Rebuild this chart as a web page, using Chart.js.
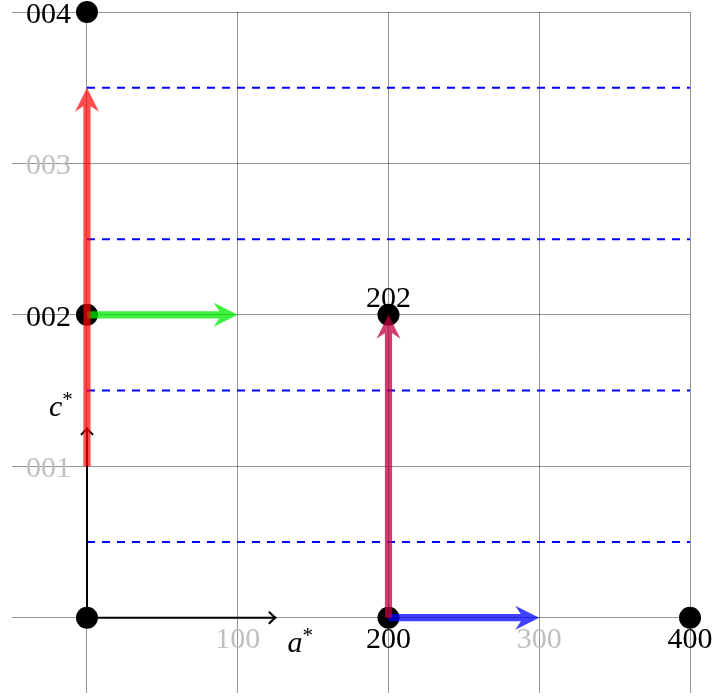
<!DOCTYPE html>
<html>
<head>
<meta charset="utf-8">
<script src="https://cdn.jsdelivr.net/npm/chart.js@4.4.0/dist/chart.umd.min.js"></script>
<style>
  html, body { margin: 0; padding: 0; background: #fff; }
  #wrap { width: 714px; height: 699px; }
</style>
</head>
<body>
<div id="wrap"><canvas id="myChart"></canvas></div>
<script>
// reciprocal lattice nodes (a*, c*)
const nodeX = [0, 2, 4, 0, 2, 0];
const nodeY = [0, 0, 0, 2, 2, 4];

// dashed lines (c* levels)
const dashLevels = [0.5, 1.5, 2.5, 3.5];

// thick vectors: start -> end
const vecNames = ['red', 'green', 'purple', 'blue'];
const vecStart = [[0, 1], [0, 2], [2, 0], [2, 0]];
const vecEnd = [[0, 3.5], [1, 2], [2, 2], [3, 0]];
const vecColors = ['rgba(255,0,0,0.7)', 'rgba(0,235,0,0.75)', 'rgba(191,0,64,0.75)', 'rgba(0,0,255,0.75)'];

// basis axes
const axisNames = ['a*', 'c*'];
const axisEnd = [[1.25, 0], [0, 1.25]];

// index labels
const labelText = ['004', '003', '002', '001', '100', '200', '300', '400', '202'];
const labelX = [0, 0, 0, 0, 1, 2, 3, 4, 2];
const labelY = [4, 3, 2, 1, 0, 0, 0, 0, 2];
const labelAllowed = [true, false, true, false, false, true, false, true, true];

const ctx = document.getElementById('myChart');

const datasets = [];

dashLevels.forEach(function (lv) {
  datasets.push({
    type: 'line',
    data: [{x: 0, y: lv}, {x: 4, y: lv}],
    borderColor: '#0000ff',
    borderWidth: 2,
    borderDash: [8, 7],
    pointRadius: 0,
    order: 10
  });
});

axisEnd.forEach(function (e, i) {
  datasets.push({
    type: 'line',
    data: [{x: 0, y: 0}, {x: e[0], y: e[1]}],
    borderColor: '#000',
    borderWidth: 2,
    pointRadius: 0,
    order: 9,
    thinArrow: true
  });
});

datasets.push({
  type: 'scatter',
  data: nodeX.map(function (x, i) { return {x: x, y: nodeY[i]}; }),
  backgroundColor: '#000',
  borderWidth: 0,
  pointRadius: 11,
  pointHoverRadius: 11,
  order: 5
});

vecNames.forEach(function (n, i) {
  datasets.push({
    type: 'line',
    label: n,
    data: [{x: vecStart[i][0], y: vecStart[i][1]}, {x: vecEnd[i][0], y: vecEnd[i][1]}],
    borderColor: vecColors[i],
    showLine: false,
    pointRadius: 0,
    order: 1,
    thickArrow: true
  });
});

// draws arrow heads (and thick shafts as one path so the alpha doesn't double up)
const arrowPlugin = {
  id: 'arrows',
  afterDatasetDraw(chart, args) {
    const ds = chart.data.datasets[args.index];
    if (!ds.thinArrow && !ds.thickArrow) return;
    const xs = chart.scales.x, ys = chart.scales.y;
    const p0 = ds.data[0], p1 = ds.data[1];
    const x0 = xs.getPixelForValue(p0.x), y0 = ys.getPixelForValue(p0.y);
    const x1 = xs.getPixelForValue(p1.x), y1 = ys.getPixelForValue(p1.y);
    const len = Math.hypot(x1 - x0, y1 - y0);
    const ux = (x1 - x0) / len, uy = (y1 - y0) / len;
    const nx = -uy, ny = ux;
    const c = chart.ctx;
    c.save();
    if (ds.thinArrow) {
      c.strokeStyle = '#000';
      c.lineWidth = 2;
      c.lineCap = 'round';
      c.beginPath();
      c.moveTo(x1 - ux * 6 + nx * 5.5, y1 - uy * 6 + ny * 5.5);
      c.quadraticCurveTo(x1 - ux * 1.5 + nx * 1, y1 - uy * 1.5 + ny * 1, x1, y1);
      c.quadraticCurveTo(x1 - ux * 1.5 - nx * 1, y1 - uy * 1.5 - ny * 1, x1 - ux * 6 - nx * 5.5, y1 - uy * 6 - ny * 5.5);
      c.stroke();
    } else {
      const L = 24, W = 12, inset = 8, hw = 3.6;
      const bx = x1 - ux * (L - inset), by = y1 - uy * (L - inset);
      c.fillStyle = ds.borderColor;
      c.beginPath();
      // shaft
      c.moveTo(x0 + nx * hw, y0 + ny * hw);
      c.lineTo(bx + nx * hw, by + ny * hw);
      c.lineTo(bx - nx * hw, by - ny * hw);
      c.lineTo(x0 - nx * hw, y0 - ny * hw);
      c.closePath();
      // head (same winding)
      c.moveTo(x1, y1);
      c.lineTo(x1 - ux * L - nx * W, y1 - uy * L - ny * W);
      c.lineTo(bx, by);
      c.lineTo(x1 - ux * L + nx * W, y1 - uy * L + ny * W);
      c.closePath();
      c.fill('nonzero');
    }
    c.restore();
  }
};

const labelPlugin = {
  id: 'labels',
  afterDraw(chart) {
    const xs = chart.scales.x, ys = chart.scales.y;
    const c = chart.ctx;
    c.save();
    c.font = '30px "Liberation Serif", serif';
    labelText.forEach(function (t, i) {
      const px = xs.getPixelForValue(labelX[i]);
      const py = ys.getPixelForValue(labelY[i]);
      c.fillStyle = labelAllowed[i] ? '#000' : '#bfbfbf';
      c.textBaseline = 'alphabetic';
      if (labelX[i] === 0 && labelY[i] > 0) {
        c.textAlign = 'right';
        c.fillText(t, px - 16, py + 11);
      } else if (labelY[i] === 0) {
        c.textAlign = 'center';
        c.fillText(t, px, py + 30);
      } else {
        c.textAlign = 'center';
        c.fillText(t, px, py - 8);
      }
    });
    // axis names
    axisNames.forEach(function (n, i) {
      const px = xs.getPixelForValue(axisEnd[i][0]);
      const py = ys.getPixelForValue(axisEnd[i][1]);
      const ox = i === 0 ? 12 : -38;
      const oy = i === 0 ? 34 : -12;
      c.fillStyle = '#000';
      c.textAlign = 'left';
      c.textBaseline = 'alphabetic';
      c.font = 'italic 30px "Liberation Serif", serif';
      c.fillText(n[0], px + ox, py + oy);
      const w = c.measureText(n[0]).width;
      c.font = '21px "Liberation Serif", serif';
      c.fillText('*', px + ox + w, py + oy - 10);
    });
    c.restore();
  }
};

new Chart(ctx, {
  data: { datasets: datasets },
  options: {
    responsive: true,
    maintainAspectRatio: false,
    animation: false,
    events: [],
    clip: false,
    layout: { autoPadding: false, padding: { left: 11.6, right: 24, top: 12, bottom: 5.6 } },
    plugins: { legend: { display: false }, tooltip: { enabled: false } },
    scales: {
      x: {
        type: 'linear',
        min: -0.5, max: 4,
        afterBuildTicks: function (s) { s.ticks = [0, 1, 2, 3, 4].map(function (v) { return {value: v}; }); },
        afterFit: function (s) { s.height = 0; },
        ticks: { display: false },
        border: { display: false },
        grid: { color: 'rgba(0,0,0,0.42)', lineWidth: 1, drawTicks: false }
      },
      y: {
        type: 'linear',
        min: -0.5, max: 4,
        afterBuildTicks: function (s) { s.ticks = [0, 1, 2, 3, 4].map(function (v) { return {value: v}; }); },
        afterFit: function (s) { s.width = 0; },
        ticks: { display: false },
        border: { display: false },
        grid: { color: 'rgba(0,0,0,0.42)', lineWidth: 1, drawTicks: false }
      }
    }
  },
  plugins: [arrowPlugin, labelPlugin]
});
</script>
</body>
</html>
